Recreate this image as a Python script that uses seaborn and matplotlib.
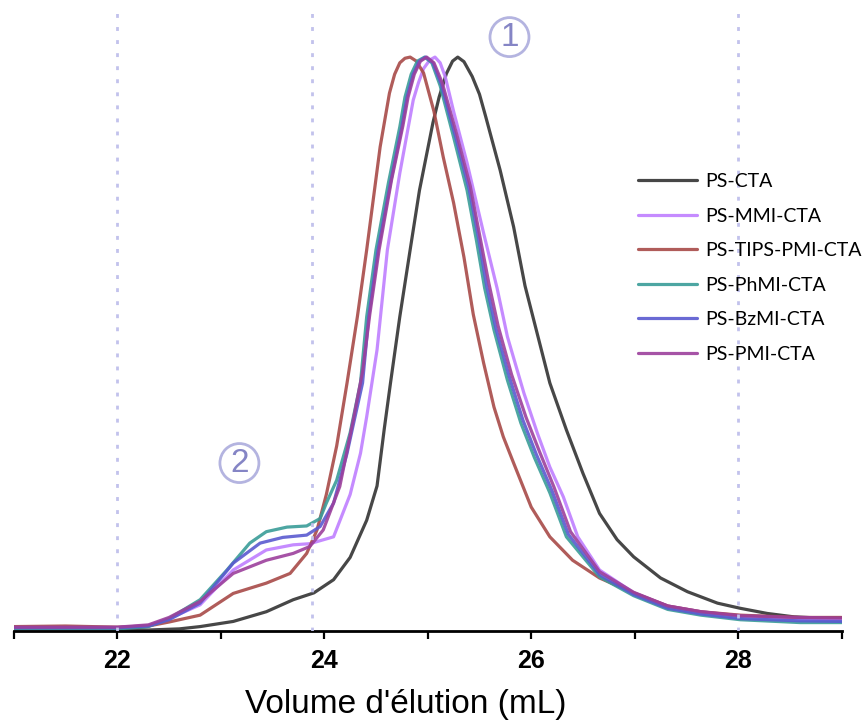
import pandas as pd
import matplotlib.pyplot as plt
import seaborn as sns

sns.set_style("white")
plt.rcParams["font.family"] = ["Liberation Sans Narrow", "Liberation Sans", "DejaVu Sans"]
plt.rcParams["text.color"] = "black"
plt.rcParams["axes.labelcolor"] = "black"
plt.rcParams["xtick.color"] = "black"

# SEC traces (elution volume in mL, normalised RI signal)
cta_x = [21.0, 21.5, 22.0, 22.3, 22.6, 22.8, 23.12, 23.44, 23.7, 23.9, 24.09, 24.25, 24.41, 24.51,
         24.58, 24.64, 24.73, 24.83, 24.92, 25.05, 25.11, 25.18, 25.24, 25.29, 25.35, 25.43, 25.5,
         25.56, 25.7, 25.83, 25.94, 26.06, 26.18, 26.34, 26.5, 26.66, 26.83, 26.99, 27.25, 27.51,
         27.8, 28.02, 28.28, 28.54, 28.77, 29.0]
cta_y = [0.0, 0.0, 0.0, -0.002, 0.0, 0.004, 0.013, 0.03, 0.051, 0.063, 0.086, 0.125, 0.19, 0.25,
         0.35, 0.43, 0.546, 0.663, 0.767, 0.885, 0.93, 0.971, 0.993, 1.0, 0.992, 0.966, 0.935,
         0.896, 0.802, 0.703, 0.6, 0.515, 0.43, 0.348, 0.272, 0.202, 0.156, 0.126, 0.089, 0.065,
         0.045, 0.036, 0.027, 0.021, 0.019, 0.019]

mmi_x = [21.0, 22.0, 22.3, 22.5, 22.8, 23.12, 23.44, 23.7, 23.86, 24.09, 24.25, 24.35, 24.41, 24.51,
         24.61, 24.73, 24.86, 24.91, 24.96, 25.02, 25.07, 25.12, 25.17, 25.25, 25.38, 25.54, 25.67,
         25.77, 25.93, 26.06, 26.18, 26.31, 26.45, 26.66, 26.99, 27.32, 27.64, 28.02, 28.6, 29.0]
mmi_y = [0.002, 0.002, 0.006, 0.018, 0.042, 0.103, 0.138, 0.147, 0.149, 0.161, 0.235, 0.307, 0.371,
         0.488, 0.663, 0.797, 0.925, 0.955, 0.98, 0.995, 1.0, 0.99, 0.965, 0.905, 0.815, 0.692,
         0.596, 0.511, 0.412, 0.342, 0.283, 0.231, 0.161, 0.103, 0.063, 0.04, 0.03, 0.022, 0.017,
         0.016]

tips_x = [21.0, 21.5, 22.0, 22.3, 22.5, 22.8, 23.12, 23.44, 23.67, 23.83, 23.93, 24.02, 24.12, 24.22,
          24.32, 24.41, 24.54, 24.63, 24.68, 24.73, 24.78, 24.83, 24.89, 24.96, 25.06, 25.15, 25.25,
          25.35, 25.44, 25.54, 25.64, 25.73, 25.83, 26.0, 26.18, 26.4, 26.66, 26.99, 27.32, 27.64,
          28.02, 28.6, 29.0]
tips_y = [0.004, 0.005, 0.003, 0.005, 0.012, 0.024, 0.062, 0.08, 0.097, 0.132, 0.173, 0.235, 0.32,
          0.43, 0.546, 0.663, 0.843, 0.937, 0.97, 0.99, 0.998, 1.0, 0.993, 0.972, 0.905, 0.825,
          0.745, 0.65, 0.55, 0.465, 0.388, 0.336, 0.29, 0.213, 0.161, 0.12, 0.089, 0.063, 0.04,
          0.03, 0.024, 0.02, 0.02]

phmi_x = [21.0, 22.0, 22.3, 22.5, 22.8, 23.06, 23.28, 23.44, 23.64, 23.83, 23.96, 24.02, 24.12, 24.25,
          24.35, 24.41, 24.5, 24.62, 24.73, 24.78, 24.84, 24.9, 24.97, 25.04, 25.12, 25.25, 25.38,
          25.47, 25.55, 25.64, 25.77, 25.9, 26.03, 26.18, 26.34, 26.66, 26.99, 27.32, 27.64, 28.02,
          28.6, 29.0]
phmi_y = [0.0, 0.0, 0.004, 0.018, 0.051, 0.103, 0.15, 0.17, 0.178, 0.18, 0.193, 0.22, 0.26, 0.343,
          0.43, 0.546, 0.663, 0.78, 0.878, 0.93, 0.97, 0.993, 1.0, 0.99, 0.95, 0.86, 0.767, 0.68,
          0.596, 0.523, 0.435, 0.36, 0.3, 0.238, 0.161, 0.091, 0.058, 0.034, 0.024, 0.016, 0.011,
          0.011]

bzmi_x = [21.0, 22.0, 22.3, 22.5, 22.8, 23.12, 23.38, 23.6, 23.83, 23.96, 24.09, 24.22, 24.29, 24.37,
          24.43, 24.52, 24.64, 24.75, 24.8, 24.86, 24.92, 24.98, 25.05, 25.13, 25.27, 25.4, 25.49,
          25.57, 25.66, 25.79, 25.92, 26.05, 26.2, 26.36, 26.66, 26.99, 27.32, 27.64, 28.02, 28.6,
          29.0]
bzmi_y = [0.002, 0.002, 0.005, 0.016, 0.045, 0.115, 0.15, 0.16, 0.164, 0.179, 0.22, 0.307, 0.365,
          0.43, 0.546, 0.663, 0.78, 0.878, 0.93, 0.97, 0.993, 1.0, 0.99, 0.953, 0.86, 0.77, 0.685,
          0.6, 0.525, 0.44, 0.365, 0.305, 0.242, 0.165, 0.095, 0.06, 0.036, 0.026, 0.018, 0.014,
          0.013]

pmi_x = [21.0, 22.0, 22.3, 22.5, 22.8, 23.12, 23.44, 23.7, 23.86, 23.99, 24.15, 24.28, 24.37, 24.44,
         24.53, 24.65, 24.76, 24.81, 24.87, 24.93, 24.99, 25.06, 25.14, 25.28, 25.41, 25.5, 25.59,
         25.68, 25.81, 25.95, 26.08, 26.22, 26.38, 26.66, 26.99, 27.32, 27.64, 28.02, 28.6, 29.0]
pmi_y = [0.003, 0.003, 0.007, 0.02, 0.048, 0.097, 0.12, 0.132, 0.144, 0.173, 0.249, 0.365, 0.45,
         0.55, 0.663, 0.785, 0.88, 0.93, 0.97, 0.993, 1.0, 0.99, 0.955, 0.865, 0.775, 0.69, 0.605,
         0.53, 0.445, 0.37, 0.31, 0.248, 0.17, 0.1, 0.064, 0.04, 0.03, 0.023, 0.02, 0.019]

samples = ["PS-CTA", "PS-MMI-CTA", "PS-TIPS-PMI-CTA", "PS-PhMI-CTA", "PS-BzMI-CTA", "PS-PMI-CTA"]
colors = ["#333333", "#bf7fff", "#a84a48", "#3a9c98", "#5a5ad0", "#9c409c"]
traces = [(cta_x, cta_y), (mmi_x, mmi_y), (tips_x, tips_y), (phmi_x, phmi_y),
          (bzmi_x, bzmi_y), (pmi_x, pmi_y)]
guides = [22.0, 23.88, 28.0]

frames = []
for name, (xs, ys) in zip(samples, traces):
    frames.append(pd.DataFrame({"volume": xs, "signal": ys, "sample": name}))
df = pd.concat(frames, ignore_index=True)

fig = plt.figure(figsize=(8.65, 7.21), dpi=100)
ax = fig.add_axes([0.016, 0.125, 0.957, 0.864])

sns.lineplot(data=df, x="volume", y="signal", hue="sample", hue_order=samples,
             palette=colors, estimator=None, linewidth=2.3, alpha=0.9, ax=ax)

for v in guides:
    ax.axvline(v, color="#c2c2ec", lw=2, ls=(0, (1.4, 3.3)), zorder=5)

ax.set_xlim(21, 29)
ax.set_ylim(-0.0035, 1.086)
ax.set_xticks([22, 24, 26, 28])
ax.set_xticks([21, 23, 25, 27, 29], minor=True)
ax.set_yticks([])
ax.tick_params(axis="x", which="both", direction="out", length=6, width=1.6, color="black",
               bottom=True, pad=7)
ax.tick_params(axis="x", which="major", labelsize=18, labelcolor="black")
for lab in ax.get_xticklabels():
    lab.set_fontweight("bold")
for s in ["left", "top", "right"]:
    ax.spines[s].set_visible(False)
ax.spines["bottom"].set_linewidth(2)
ax.spines["bottom"].set_color("black")

ax.set_ylabel("")
ax.set_xlabel("Volume d'élution (mL)", fontsize=24, color="black")
ax.xaxis.set_label_coords(0.473, -0.093)

# circled markers
circ = dict(boxstyle="circle,pad=0.12", fc="white", ec="#b4b4e0", lw=2)
ax.text(25.79, 1.035, "1", fontsize=24, color="#8585c5", ha="center", va="center",
        family=["Liberation Sans", "DejaVu Sans"], bbox=circ)
ax.text(23.18, 0.29, "2", fontsize=24, color="#8585c5", ha="center", va="center",
        family=["Liberation Sans", "DejaVu Sans"], bbox=circ)

handles, labels = ax.get_legend_handles_labels()
for h in handles:
    h.set_linewidth(2.3)
leg = ax.legend(handles, labels, loc="upper left", bbox_to_anchor=(0.754, 0.735),
                frameon=False, handlelength=3.05, handletextpad=0.41,
                labelspacing=0.9, borderpad=0, borderaxespad=0,
                prop={"family": ["Lato", "DejaVu Sans"], "size": 14})
for t in leg.get_texts():
    t.set_color("black")

fig.savefig("out.png", dpi=100)
